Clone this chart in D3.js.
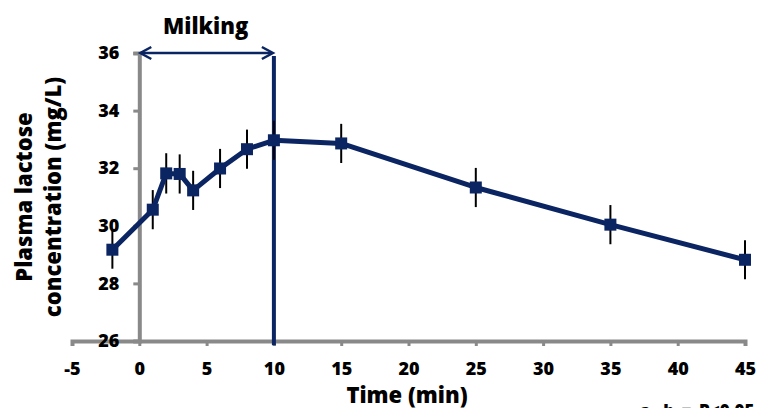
<!DOCTYPE html>
<html><head><meta charset="utf-8">
<script src="https://cdn.jsdelivr.net/npm/d3@7"></script>
<style>body{margin:0;background:#fff}svg{display:block}text{font-family:"Open Sans",sans-serif;font-weight:800}</style>
</head><body>
<svg id="c" width="757" height="408"></svg>
<script>
const times = [-2, 1, 2, 3, 4, 6, 8, 10, 15, 25, 35, 45];
const lactose = [29.17, 30.56, 31.82, 31.8, 31.23, 31.99, 32.66, 32.97, 32.86, 31.33, 30.04, 28.82];
const sem = [0.66, 0.68, 0.7, 0.68, 0.68, 0.68, 0.68, 0.68, 0.68, 0.68, 0.68, 0.68];
const xTicks = [-5, 0, 5, 10, 15, 20, 25, 30, 35, 40, 45];
const yTicks = [26, 28, 30, 32, 34, 36];
const milking = [0, 10];

const svg = d3.select("#c");
const x = d3.scaleLinear().domain([-5, 45]).range([72, 745]);
const y = d3.scaleLinear().domain([26, 36]).range([341, 53]);
const navy = "#0b2462", gray = "#898989";

// x axis
const xa = svg.append("g").attr("transform", `translate(0,${y(26)})`)
  .call(d3.axisBottom(x).tickValues(xTicks).tickSize(5).tickPadding(16).tickFormat(d => String(d)));
xa.select(".domain").attr("stroke", gray).attr("stroke-width", 4);
xa.selectAll(".tick line").attr("stroke", gray).attr("stroke-width", 3);
xa.selectAll(".tick text").attr("font-size", 18).attr("font-family", "Open Sans").attr("font-weight", 800).attr("fill", "#000");

// y axis
const ya = svg.append("g").attr("transform", `translate(${x(0)},0)`)
  .call(d3.axisLeft(y).tickValues(yTicks).tickSize(6).tickPadding(14).tickFormat(d => String(d)));
ya.select(".domain").attr("stroke", gray).attr("stroke-width", 4);
ya.selectAll(".tick line").attr("stroke", gray).attr("stroke-width", 3);
ya.selectAll(".tick text").attr("font-size", 18).attr("font-family", "Open Sans").attr("font-weight", 800).attr("fill", "#000");

// vertical line at end of milking
svg.append("line").attr("x1", x(milking[1])).attr("x2", x(milking[1]))
  .attr("y1", y(35.9)).attr("y2", y(25.85)).attr("stroke", navy).attr("stroke-width", 4);

// arrow
const ay = y(36);
svg.append("line").attr("x1", x(milking[0]) + 2).attr("x2", x(milking[1]) - 2)
  .attr("y1", ay).attr("y2", ay).attr("stroke", navy).attr("stroke-width", 2.5);
[[x(milking[0]) + 1, 1], [x(milking[1]) - 1, -1]].forEach(([px, s]) => {
  svg.append("path").attr("d", `M${px + s*11},${ay - 6}L${px},${ay}L${px + s*11},${ay + 6}`)
    .attr("fill", "none").attr("stroke", navy).attr("stroke-width", 2.5);
});
svg.append("text").attr("x", (x(milking[0]) + x(milking[1])) / 2 - 1).attr("y", 34)
  .attr("text-anchor", "middle").attr("font-size", 22).text("Milking");

// error bars
const data = times.map((t, i) => ({t, v: lactose[i], e: sem[i]}));
svg.selectAll(".eb").data(data).join("line").attr("class", "eb")
  .attr("x1", d => x(d.t)).attr("x2", d => x(d.t))
  .attr("y1", d => y(d.v - d.e)).attr("y2", d => y(d.v + d.e))
  .attr("stroke", "#000").attr("stroke-width", 2);

// line
svg.append("path").datum(data)
  .attr("d", d3.line().x(d => x(d.t)).y(d => y(d.v)))
  .attr("fill", "none").attr("stroke", navy).attr("stroke-width", 5).attr("stroke-linejoin", "round");

// markers
svg.selectAll(".mk").data(data).join("rect").attr("class", "mk")
  .attr("x", d => x(d.t) - 6).attr("y", d => y(d.v) - 6)
  .attr("width", 12).attr("height", 12).attr("fill", navy);

// axis titles
svg.append("text").attr("x", 407).attr("y", 403).attr("text-anchor", "middle")
  .attr("font-size", 22).text("Time (min)");
const yl = svg.append("text").attr("transform", "translate(32,197) rotate(-90)")
  .attr("text-anchor", "middle").attr("font-size", 22);
yl.append("tspan").attr("x", 0).attr("y", 0).text("Plasma lactose");
yl.append("tspan").attr("x", 0).attr("y", 29).text("concentration (mg/L)");

// footnote (cut off at bottom edge, as in the source)
svg.append("text").attr("x", 640).attr("y", 417).attr("font-size", 17).attr("font-weight", 400)
  .attr("word-spacing", 3).text("a, b = P<0.05");
</script>
</body></html>
